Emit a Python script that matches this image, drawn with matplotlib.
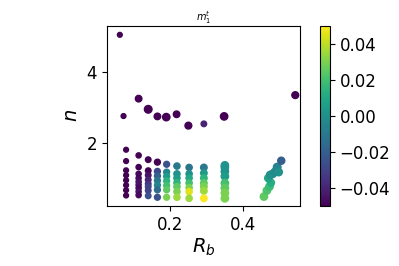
import matplotlib
matplotlib.use("Agg")
import matplotlib.pyplot as plt
import numpy as np

# Upper sparse points
top_rb = [0.065, 0.075, 0.116, 0.142, 0.167, 0.191, 0.219, 0.251, 0.293, 0.348, 0.541]
top_n = [5.04, 2.75, 3.24, 2.94, 2.74, 2.72, 2.80, 2.48, 2.53, 2.74, 3.34]
top_m = [-0.05, -0.05, -0.05, -0.05, -0.05, -0.05, -0.05, -0.05, -0.04, -0.05, -0.05]
top_s = [12, 12, 22, 30, 22, 28, 22, 24, 16, 28, 24]

# Column clusters
col_rb = [0.082, 0.116, 0.142, 0.167, 0.192, 0.220, 0.253, 0.293, 0.350]
col_n = [
    [1.80, 1.48, 1.22, 1.08, 0.94, 0.80, 0.66, 0.51],
    [1.64, 1.31, 1.12, 1.00, 0.90, 0.81, 0.72, 0.62, 0.52],
    [1.52, 1.21, 1.08, 0.95, 0.84, 0.76, 0.65, 0.50],
    [1.45, 1.19, 1.06, 0.93, 0.80, 0.67, 0.46],
    [1.39, 1.17, 1.05, 0.92, 0.79, 0.67, 0.46],
    [1.34, 1.12, 1.00, 0.87, 0.76, 0.62, 0.46],
    [1.30, 1.12, 1.00, 0.86, 0.73, 0.62, 0.43],
    [1.30, 1.14, 1.00, 0.86, 0.76, 0.64, 0.43],
    [1.36, 1.30, 1.19, 1.05, 0.86, 0.72, 0.58, 0.43],
]
col_m = [
    [-0.05, -0.05, -0.05, -0.05, -0.05, -0.05, -0.05, -0.05],
    [-0.05, -0.05, -0.048, -0.048, -0.045, -0.045, -0.048, -0.045, -0.048],
    [-0.05, -0.05, -0.045, -0.04, -0.035, -0.03, -0.03, -0.025],
    [-0.05, -0.028, -0.02, -0.01, -0.005, -0.015, -0.025],
    [-0.025, -0.005, 0.005, 0.015, 0.02, 0.025, 0.03],
    [-0.01, 0.0, 0.005, 0.015, 0.025, 0.03, 0.035],
    [-0.012, 0.0, 0.01, 0.02, 0.03, 0.045, 0.035],
    [-0.01, 0.005, 0.015, 0.025, 0.03, 0.035, 0.05],
    [0.0, 0.0, 0.0, 0.005, 0.02, 0.025, 0.03, 0.03],
]
col_s = [12, 14, 16, 18, 18, 20, 20, 22, 28]

# Right diagonal cluster
right_rb = [0.456, 0.464, 0.471, 0.475, 0.468, 0.473, 0.480, 0.486, 0.492, 0.496, 0.503]
right_n = [0.48, 0.65, 0.76, 0.87, 1.00, 1.09, 1.12, 1.18, 1.31, 1.17, 1.49]
right_m = [0.025, 0.022, 0.018, 0.012, 0.008, 0.0, 0.0, -0.002, -0.005, 0.0, -0.02]
right_s = [28, 28, 28, 26, 28, 28, 28, 28, 30, 28, 26]

rb = list(top_rb)
nn = list(top_n)
mm = list(top_m)
ss = list(top_s)
for x, ys, cs, s in zip(col_rb, col_n, col_m, col_s):
    rb += [x] * len(ys)
    nn += ys
    mm += cs
    ss += [s] * len(ys)
rb += right_rb
nn += right_n
mm += right_m
ss += right_s

fig = plt.figure(figsize=(3.99, 2.66), dpi=100)
ax = fig.add_axes([0.268, 0.226, 0.484, 0.676])
cax = fig.add_axes([0.802, 0.226, 0.025, 0.676])
sc = ax.scatter(rb, nn, c=mm, s=ss, cmap="viridis", vmin=-0.05, vmax=0.05)
ax.set_xlim(0.030, 0.554)
ax.set_ylim(0.217, 5.287)
ax.set_xticks([0.2, 0.4])
ax.set_yticks([2, 4])
ax.tick_params(labelsize=12)
ax.set_xlabel("$R_b$", fontsize=14, labelpad=2)
ax.set_ylabel("$n$", fontsize=14)
ax.set_title("$m_1^t$", fontsize=7, pad=4)
cb = fig.colorbar(sc, cax=cax)
cb.set_ticks([-0.04, -0.02, 0.0, 0.02, 0.04])
cb.ax.tick_params(labelsize=12)
cb.outline.set_linewidth(0.8)
fig.savefig("out.png", dpi=100)
